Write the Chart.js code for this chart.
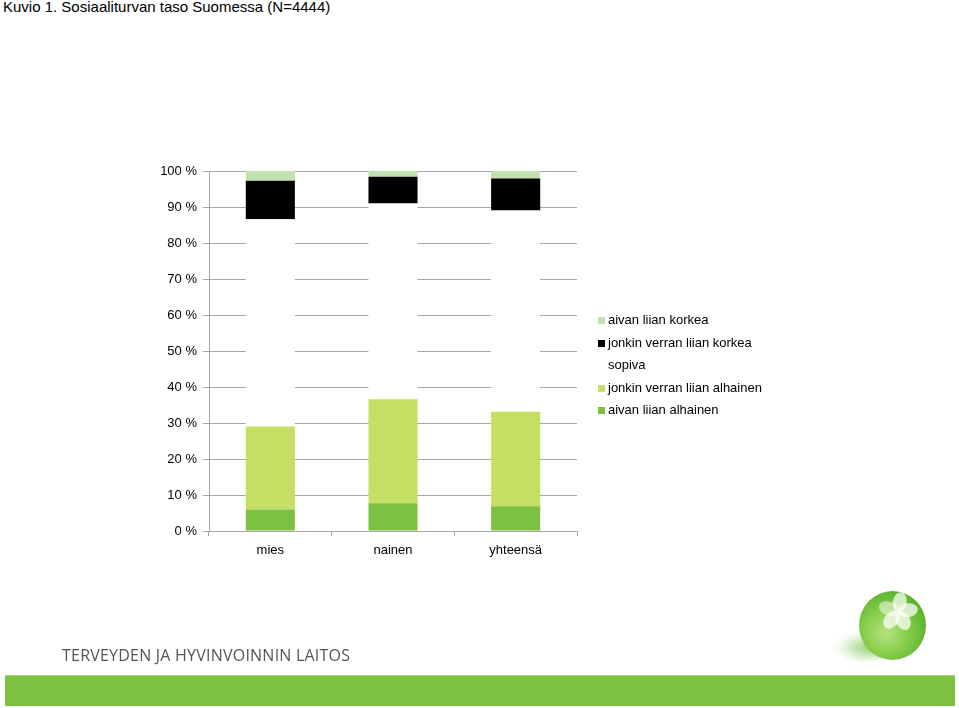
<!DOCTYPE html>
<html>
<head>
<meta charset="utf-8">
<script src="https://cdn.jsdelivr.net/npm/chart.js@4"></script>
<style>
  html, body { margin:0; padding:0; background:#fff; }
  body { width:959px; height:708px; position:relative; overflow:hidden; font-family:"Liberation Sans", Arial, sans-serif; }
  #title { position:absolute; left:3px; top:-2px; font-size:15px; color:#000; white-space:nowrap; }
  #wrap { position:absolute; left:0; top:0; width:959px; height:708px; }
  #legend { position:absolute; left:598px; top:309px; font-size:13px; color:#000; }
  #legend div { height:22.5px; line-height:22.5px; white-space:nowrap; position:relative; padding-left:10px; }
  #legend span.box { position:absolute; left:0; top:8px; width:7px; height:7px; }
  #org { position:absolute; left:62px; top:644px; font-family:"Open Sans", sans-serif; font-size:16px; color:#555; white-space:nowrap; letter-spacing:0.22px; }
  #band { position:absolute; left:5px; top:675px; width:950px; height:31px; background:#7cc142; border-top:1px solid #a8d67f; box-sizing:border-box; }
  #shadow { position:absolute; left:832px; top:630px; width:62px; height:32px; border-radius:50%; background:radial-gradient(ellipse at 60% 55%, rgba(110,190,70,0.7), rgba(200,235,180,0.25) 55%, rgba(255,255,255,0) 72%); }
  #ball { position:absolute; left:859px; top:591px; width:67px; height:69px; border-radius:50%; overflow:hidden;
    background: radial-gradient(circle at 40% 60%, #b6e283 0%, #8ccf4e 35%, #5fb531 70%, #3e9420 100%); }
  .petal { position:absolute; width:20px; height:14px; background:rgba(255,255,255,0.72); border-radius:50% 50% 50% 50% / 50% 50% 50% 50%; transform-origin:0 7px; }
</style>
</head>
<body>
<div id="title">Kuvio 1. Sosiaaliturvan taso Suomessa (N=4444)</div>
<div id="wrap"><canvas id="c" width="959" height="708"></canvas></div>
<div id="legend"></div>
<div id="shadow"></div>
<div id="ball">
  <div class="petal" style="left:39px;top:14px;transform:rotate(-80deg);"></div>
  <div class="petal" style="left:39px;top:14px;transform:rotate(-10deg);"></div>
  <div class="petal" style="left:39px;top:14px;transform:rotate(60deg);"></div>
  <div class="petal" style="left:39px;top:14px;transform:rotate(130deg);"></div>
  <div class="petal" style="left:39px;top:14px;transform:rotate(200deg);background:rgba(255,255,255,0.5);"></div>
</div>
<div id="org">TERVEYDEN JA HYVINVOINNIN LAITOS</div>
<div id="band"></div>
<script>
const categories = ['mies', 'nainen', 'yhteensä'];
const aivanLiianAlhainen = [6.0, 7.7, 6.9];
const jonkinVerranLiianAlhainen = [23.0, 28.9, 26.2];
const sopiva = [57.6, 54.4, 55.9];
const jonkinVerranLiianKorkea = [10.7, 7.4, 8.9];
const aivanLiianKorkea = [2.7, 1.6, 2.1];
const yTickValues = [0,10,20,30,40,50,60,70,80,90,100];

const datasets = [
  { label: 'aivan liian alhainen', data: aivanLiianAlhainen, backgroundColor: '#7cc142' },
  { label: 'jonkin verran liian alhainen', data: jonkinVerranLiianAlhainen, backgroundColor: '#c4df63' },
  { label: 'sopiva', data: sopiva, backgroundColor: '#ffffff' },
  { label: 'jonkin verran liian korkea', data: jonkinVerranLiianKorkea, backgroundColor: '#000000' },
  { label: 'aivan liian korkea', data: aivanLiianKorkea, backgroundColor: '#c2e0b0' }
];
datasets.forEach(d => { d.barPercentage = 0.4; d.categoryPercentage = 1.0; d.borderWidth = 0; });

// HTML legend built from datasets (reverse order)
const leg = document.getElementById('legend');
datasets.slice().reverse().forEach(d => {
  const row = document.createElement('div');
  const b = document.createElement('span');
  b.className = 'box';
  b.style.background = d.backgroundColor;
  row.appendChild(b);
  row.appendChild(document.createTextNode(d.label));
  leg.appendChild(row);
});

const gridColor = '#a6a6a6';
new Chart(document.getElementById('c'), {
  type: 'bar',
  data: { labels: categories, datasets },
  options: {
    responsive: false,
    animation: false,
    devicePixelRatio: 1,
    layout: { padding: { left: 0, top: 171, right: 382, bottom: 137 } },
    plugins: { legend: { display: false }, tooltip: { enabled: false }, title: { display: false } },
    scales: {
      x: {
        stacked: true,
        afterFit: s => { s.height = 40; },
        grid: { display: true, drawOnChartArea: false, drawTicks: true, tickLength: 5, color: gridColor, offset: true },
        border: { display: true, color: gridColor, width: 1 },
        ticks: { color: '#000', padding: 7, font: { family: 'Liberation Sans', size: 13 } }
      },
      y: {
        stacked: true,
        min: 0, max: 100,
        afterFit: s => { s.width = 209; },
        afterBuildTicks: s => { s.ticks = yTickValues.map(v => ({ value: v })); },
        grid: { color: gridColor, lineWidth: 1, drawTicks: true, tickLength: 6 },
        border: { display: true, color: gridColor, width: 1 },
        ticks: { color: '#000', padding: 6, font: { family: 'Liberation Sans', size: 13 }, callback: v => v + ' %' }
      }
    }
  }
});
</script>
</body>
</html>
